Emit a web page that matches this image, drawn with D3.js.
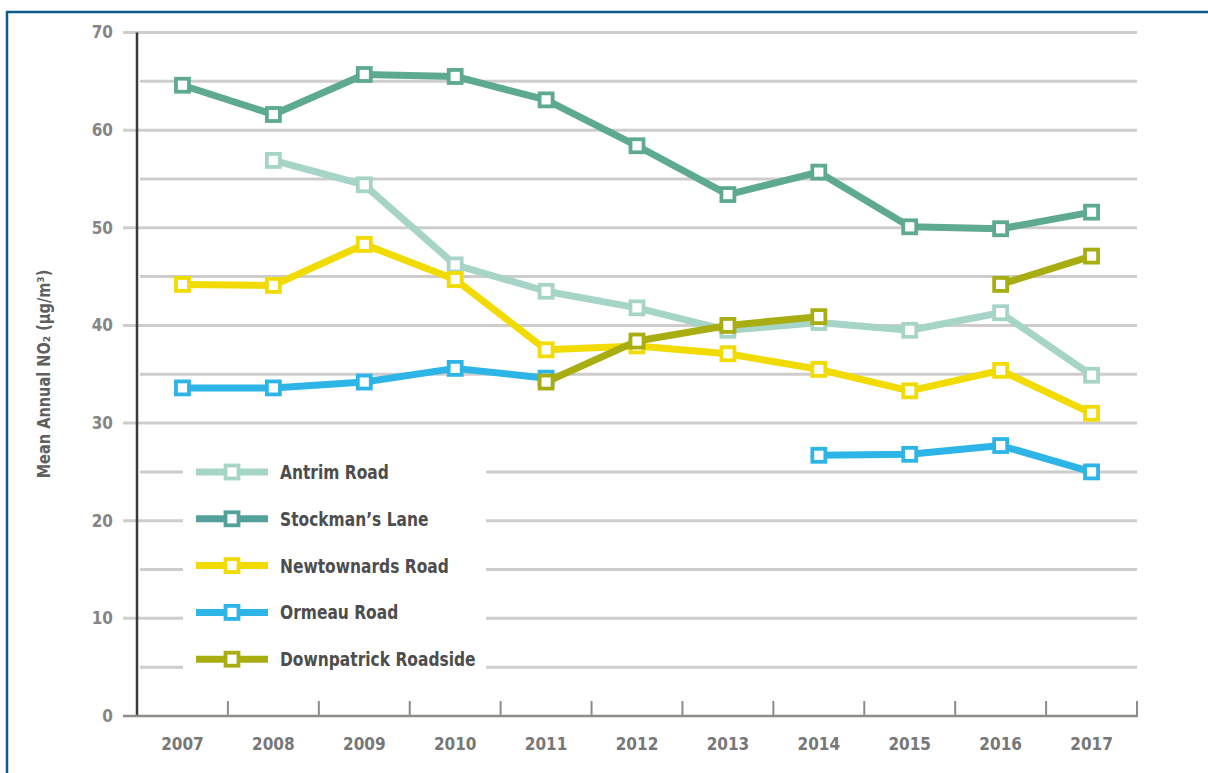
<!DOCTYPE html>
<html lang="en">
<head>
<meta charset="UTF-8">
<title>Mean Annual NO2</title>
<script src="https://cdn.jsdelivr.net/npm/d3@7"></script>
<style>
  body { margin: 0; background: #fff; }
  svg text { font-family: "DejaVu Sans", sans-serif; font-stretch: condensed; font-weight: bold; }
</style>
</head>
<body>
<svg id="chart" width="1208" height="773"></svg>
<script>
// values
var years = ["2007","2008","2009","2010","2011","2012","2013","2014","2015","2016","2017"];
var antrim      = [null, 56.9, 54.4, 46.2, 43.5, 41.8, 39.5, 40.3, 39.5, 41.3, 34.9];
var stockmans   = [64.6, 61.6, 65.7, 65.5, 63.1, 58.4, 53.4, 55.7, 50.1, 49.9, 51.6];
var newtownards = [44.2, 44.1, 48.3, 44.7, 37.5, 37.9, 37.1, 35.5, 33.3, 35.4, 31.0];
var ormeau      = [33.6, 33.6, 34.2, 35.6, 34.6, null, null, 26.7, 26.8, 27.7, 25.0];
var downpatrick = [null, null, null, null, 34.2, 38.4, 40.0, 40.9, null, 44.2, 47.1];
var yTicks = [0, 10, 20, 30, 40, 50, 60, 70];

var series = [
  {name: "Stockman\u2019s Lane", values: stockmans, color: "#5daa90"},
  {name: "Antrim Road", values: antrim, color: "#a6d4c6"},
  {name: "Newtownards Road", values: newtownards, color: "#f1db00"},
  {name: "Ormeau Road", values: ormeau, color: "#2cb5e6"},
  {name: "Downpatrick Roadside", values: downpatrick, color: "#a8ad12"}
];
var legendOrder = [1, 0, 2, 3, 4];

var svg = d3.select("#chart");

// blue frame
svg.append("rect")
  .attr("x", 7).attr("y", 12).attr("width", 1210).attr("height", 780)
  .attr("fill", "none").attr("stroke", "#0e5b8b").attr("stroke-width", 2.5);

var plotLeft = 137, plotRight = 1137, plotTop = 32.5, plotBottom = 716;

var x = d3.scaleBand().domain(years).range([plotLeft, plotRight]);
var y = d3.scaleLinear().domain([0, 70]).range([plotBottom, plotTop]);

// grid lines every 5
var grid = svg.append("g");
d3.range(5, 75, 10).forEach(function(v){
  grid.append("line")
    .attr("x1", plotLeft + 3).attr("x2", plotRight)
    .attr("y1", y(v)).attr("y2", y(v))
    .attr("stroke", "#cfcccc").attr("stroke-width", 3);
});
yTicks.forEach(function(v){
  if (v === 0) return;
  grid.append("line")
    .attr("x1", plotLeft - 14).attr("x2", plotRight)
    .attr("y1", y(v)).attr("y2", y(v))
    .attr("stroke", "#cfcccc").attr("stroke-width", 3);
});

// y axis
var yAxis = svg.append("g")
  .attr("transform", "translate(" + plotLeft + ",0)")
  .call(d3.axisLeft(y).tickValues(yTicks).tickSize(0).tickPadding(24));
yAxis.select(".domain").remove();
yAxis.selectAll("text").attr("fill", "#858585").style("font-size", "17px");

svg.append("line")
  .attr("x1", plotLeft).attr("x2", plotLeft).attr("y1", plotTop).attr("y2", plotBottom)
  .attr("stroke", "#3a3a3a").attr("stroke-width", 2.5);

// x axis
svg.append("line")
  .attr("x1", plotLeft - 14).attr("x2", plotRight).attr("y1", plotBottom).attr("y2", plotBottom)
  .attr("stroke", "#8c8c88").attr("stroke-width", 2.5);
years.forEach(function(yr, i){
  if (i === 0) return;
  var xx = x(yr);
  svg.append("line").attr("x1", xx).attr("x2", xx).attr("y1", plotBottom).attr("y2", plotBottom - 15)
    .attr("stroke", "#8c8c88").attr("stroke-width", 2);
});
svg.append("line").attr("x1", plotRight).attr("x2", plotRight).attr("y1", plotBottom + 1).attr("y2", plotBottom - 15)
  .attr("stroke", "#8c8c88").attr("stroke-width", 2);

var xAxis = svg.append("g")
  .attr("transform", "translate(0," + plotBottom + ")")
  .call(d3.axisBottom(x).tickSize(0).tickPadding(22));
xAxis.select(".domain").remove();
xAxis.selectAll("text").attr("fill", "#777").style("font-size", "17px");

// y title
svg.append("text")
  .attr("transform", "translate(50,374) rotate(-90) scale(0.95,1)")
  .attr("text-anchor", "middle")
  .attr("fill", "#5f5f5f")
  .style("font-size", "17px")
  .text("Mean Annual NO\u2082 (\u00b5g/m\u00b3)");

// legend background hides grid
svg.append("rect").attr("x", 183).attr("y", 452).attr("width", 303).attr("height", 228).attr("fill", "#fff");

// lines
var line = d3.line()
  .defined(function(d){ return d != null; })
  .x(function(d, i){ return x(years[i]) + x.bandwidth() / 2; })
  .y(function(d){ return y(d); });

series.forEach(function(s){
  var g = svg.append("g");
  g.append("path")
    .attr("d", line(s.values))
    .attr("fill", "none")
    .attr("stroke", s.color)
    .attr("stroke-width", 7)
    .attr("stroke-linejoin", "round");
  g.selectAll("rect")
    .data(s.values.map(function(v, i){ return {v: v, i: i}; }).filter(function(d){ return d.v != null; }))
    .join("rect")
    .attr("x", function(d){ return x(years[d.i]) + x.bandwidth() / 2 - 6.5; })
    .attr("y", function(d){ return y(d.v) - 6.5; })
    .attr("width", 13).attr("height", 13)
    .attr("fill", "#fff")
    .attr("stroke", s.color)
    .attr("stroke-width", 3.8);
});

// legend
var legend = svg.append("g");
legendOrder.forEach(function(idx, k){
  var s = series[idx];
  var ly = 472 + k * 46.8;
  var col = idx === 0 ? "#54a19c" : s.color;
  legend.append("line").attr("x1", 196).attr("x2", 268).attr("y1", ly).attr("y2", ly)
    .attr("stroke", col).attr("stroke-width", 7);
  legend.append("rect").attr("x", 225.5).attr("y", ly - 6.5).attr("width", 13).attr("height", 13)
    .attr("fill", "#fff").attr("stroke", col).attr("stroke-width", 3.8);
  legend.append("text")
    .attr("transform", "translate(280," + (ly + 7) + ") scale(0.86,1)")
    .attr("fill", "#4d4d4d").style("font-size", "20px")
    .text(s.name);
});
</script>
</body>
</html>
